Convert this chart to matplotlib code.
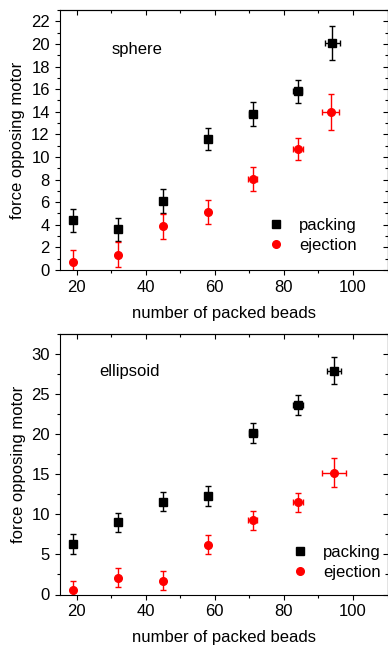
import matplotlib
matplotlib.use("Agg")
import matplotlib.pyplot as plt
from matplotlib.lines import Line2D
from matplotlib.ticker import MultipleLocator

plt.rcParams['font.family'] = ['Liberation Sans', 'DejaVu Sans']
plt.rcParams['font.size'] = 12

# ---- sphere data ----
sph_pack_x = [19, 32, 45, 58, 71, 84, 94]
sph_pack_y = [4.4, 3.6, 6.1, 11.6, 13.8, 15.8, 20.1]
sph_pack_yerr = [1.0, 1.0, 1.05, 1.0, 1.05, 1.0, 1.5]
sph_pack_xerr = [0.5, 0.5, 0.5, 0.5, 1.0, 1.3, 2.2]
sph_ej_x = [19, 32, 45, 58, 71, 84, 93.5]
sph_ej_y = [0.7, 1.35, 3.85, 5.15, 8.05, 10.7, 13.95]
sph_ej_yerr = [1.1, 1.1, 1.1, 1.05, 1.05, 1.0, 1.6]
sph_ej_xerr = [0.5, 0.5, 0.5, 0.5, 1.3, 1.4, 2.4]

# ---- ellipsoid data ----
ell_pack_x = [19, 32, 45, 58, 71, 84, 94.5]
ell_pack_y = [6.3, 9.0, 11.6, 12.3, 20.2, 23.6, 27.9]
ell_pack_yerr = [1.2, 1.2, 1.2, 1.2, 1.25, 1.25, 1.7]
ell_pack_xerr = [0.5, 0.5, 0.5, 0.5, 1.2, 1.4, 2.0]
ell_ej_x = [19, 32, 45, 58, 71, 84, 94.5]
ell_ej_y = [0.6, 2.1, 1.7, 6.2, 9.25, 11.5, 15.2]
ell_ej_yerr = [1.1, 1.2, 1.2, 1.2, 1.2, 1.2, 1.85]
ell_ej_xerr = [0.5, 0.5, 0.5, 0.5, 1.3, 1.5, 3.4]

xticks = [20, 40, 60, 80, 100]
xlabel = "number of packed beads"
ylabel = "force opposing motor"
legend_labels = ["packing", "ejection"]

fig = plt.figure(figsize=(3.88, 6.47), dpi=100)
ax1 = fig.add_axes([59.5/388, 1-270/647, 328/388, 260/647])
ax2 = fig.add_axes([59.5/388, 1-594.5/647, 328/388, 260.5/647])


def draw(ax, px, py, pxe, pye, ex, ey, exe, eye, ylim, ymin, yticks, title, tpos, lpos):
    ax.errorbar(px, py, yerr=pye, xerr=pxe, fmt='s', color='black', ms=5.5,
                capsize=2.2, elinewidth=1.0, capthick=1.0)
    ax.errorbar(ex, ey, yerr=eye, xerr=exe, fmt='o', color='red', ms=5.5,
                capsize=2.2, elinewidth=1.0, capthick=1.0)
    ax.set_xlim(15, 110)
    ax.set_ylim(*ylim)
    ax.set_xticks(xticks)
    ax.xaxis.set_minor_locator(MultipleLocator(10))
    ax.set_yticks(yticks)
    ax.yaxis.set_minor_locator(MultipleLocator(ymin))
    ax.tick_params(which='major', direction='out', length=3.5, width=0.8, labelsize=12)
    ax.tick_params(which='minor', direction='out', length=2, width=0.8)
    for s in ax.spines.values():
        s.set_linewidth(0.8)
    sx = ax.secondary_xaxis('top')
    sx.set_xticks(xticks)
    sx.xaxis.set_minor_locator(MultipleLocator(10))
    sx.tick_params(which='major', direction='in', length=3.5, width=0.8, labeltop=False)
    sx.tick_params(which='minor', direction='in', length=2, width=0.8)
    sy = ax.secondary_yaxis('right')
    sy.set_yticks(yticks)
    sy.yaxis.set_minor_locator(MultipleLocator(ymin))
    sy.tick_params(which='major', direction='in', length=3.5, width=0.8, labelright=False)
    sy.tick_params(which='minor', direction='in', length=2, width=0.8)
    ax.set_xlabel(xlabel, fontsize=12, labelpad=8)
    ax.set_ylabel(ylabel, fontsize=12, labelpad=4)
    ax.text(tpos[0], tpos[1], title, fontsize=12, ha='left', va='center')
    handles = [Line2D([], [], ls='none', marker='s', color='black', ms=5.5),
               Line2D([], [], ls='none', marker='o', color='red', ms=5.5)]
    ax.legend(handles, legend_labels, loc='upper left', bbox_to_anchor=lpos,
              frameon=False, fontsize=12, handlelength=1.0, handletextpad=0.9,
              labelspacing=0.3, borderpad=0, borderaxespad=0)


draw(ax1, sph_pack_x, sph_pack_y, sph_pack_xerr, sph_pack_yerr,
     sph_ej_x, sph_ej_y, sph_ej_xerr, sph_ej_yerr,
     (0, 23), 1, list(range(0, 23, 2)), "sphere", (30.2, 19.5), (0.634, 0.20))
draw(ax2, ell_pack_x, ell_pack_y, ell_pack_xerr, ell_pack_yerr,
     ell_ej_x, ell_ej_y, ell_ej_xerr, ell_ej_yerr,
     (0, 32.5), 2.5, list(range(0, 31, 5)), "ellipsoid", (26.6, 27.8), (0.707, 0.19))

fig.savefig("out.png", dpi=100)
